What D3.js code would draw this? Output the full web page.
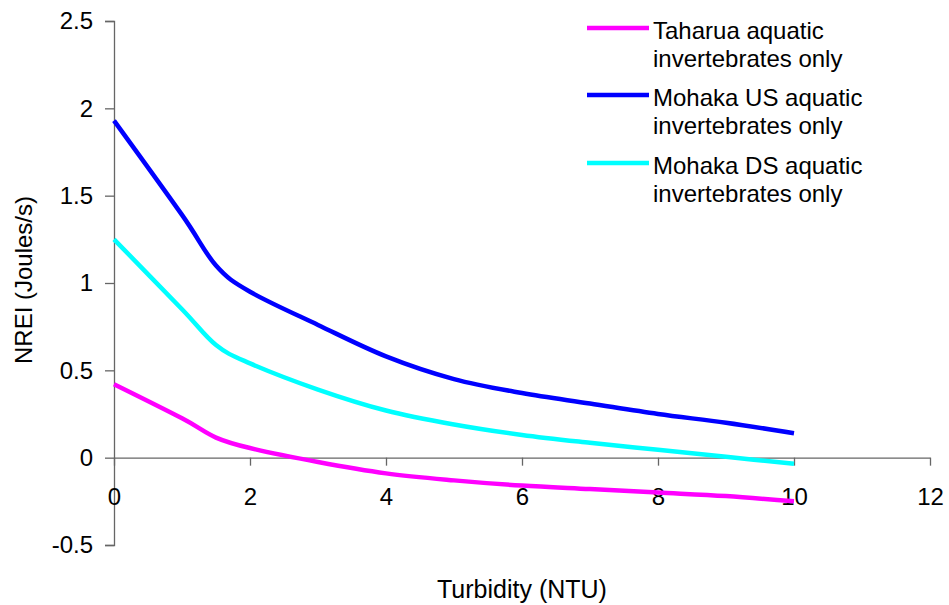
<!DOCTYPE html>
<html><head><meta charset="utf-8">
<script src="https://cdn.jsdelivr.net/npm/d3@7/dist/d3.min.js"></script>
<style>body{margin:0;background:#fff}svg{display:block}text{font-family:"Liberation Sans",Arial,sans-serif;fill:#000}</style>
</head><body>
<svg id="c" width="949" height="605"></svg>
<script>
const turbidity = [0, 1, 1.5, 2, 3, 4, 5, 6, 7, 8, 9, 10];
const taharua = [0.42, 0.225, 0.115, 0.055, -0.025, -0.09, -0.13, -0.16, -0.18, -0.2, -0.22, -0.25];
const mohakaUS = [1.93, 1.39, 1.1, 0.95, 0.76, 0.58, 0.45, 0.37, 0.31, 0.25, 0.2, 0.14];
const mohakaDS = [1.25, 0.85, 0.645, 0.54, 0.39, 0.27, 0.19, 0.13, 0.085, 0.045, 0.005, -0.035];
const seriesNames = ["Taharua aquatic|invertebrates only", "Mohaka US aquatic|invertebrates only", "Mohaka DS aquatic|invertebrates only"];
const seriesColors = ["#FF00FF", "#0000FF", "#00FFFF"];
const xTicks = [0, 2, 4, 6, 8, 10, 12];
const yTicks = [-0.5, 0, 0.5, 1, 1.5, 2, 2.5];

const svg = d3.select("#c");
const x = d3.scaleLinear().domain([0, 12]).range([114, 930]);
const y = d3.scaleLinear().domain([-0.5, 2.5]).range([545, 21]);
const axisColor = "#666";
const fs = "24px";

// y axis
const ya = svg.append("g").attr("transform", `translate(${x(0)},0)`)
  .call(d3.axisLeft(y).tickValues(yTicks).tickSize(9).tickPadding(12).tickFormat(d3.format("")));
ya.select(".domain").attr("stroke", axisColor).attr("stroke-width", 1.3);
ya.selectAll(".tick line").attr("stroke", axisColor).attr("stroke-width", 1.3);
ya.selectAll("text").style("font-size", fs).attr("fill", "#000").text(d => d < 0 ? "-" + Math.abs(d) : d);

// x axis at y=0
const xa = svg.append("g").attr("transform", `translate(0,${y(0)})`)
  .call(d3.axisBottom(x).tickValues(xTicks).tickSize(8).tickSizeOuter(0).tickPadding(22).tickFormat(d3.format("")));
xa.select(".domain").attr("stroke", axisColor).attr("stroke-width", 1.3);
xa.selectAll(".tick line").attr("stroke", axisColor).attr("stroke-width", 1.3);
xa.selectAll("text").style("font-size", fs).attr("fill", "#000");

// axis titles
svg.append("text").attr("x", 522).attr("y", 598).attr("text-anchor", "middle").style("font-size", "25px").text("Turbidity (NTU)");
svg.append("text").attr("transform", `translate(32,280) rotate(-90)`).attr("text-anchor", "middle").style("font-size", fs).text("NREI (Joules/s)");

const line = d3.line().x((d, i) => x(turbidity[i])).y(d => y(d)).curve(d3.curveCardinal.tension(0));
[taharua, mohakaUS, mohakaDS].forEach((s, k) => {
  svg.append("path").attr("d", line(s)).attr("fill", "none").attr("stroke", seriesColors[k]).attr("stroke-width", 4.5).attr("stroke-linejoin", "round");
});

// legend
const legY = [28, 95, 163];
seriesNames.forEach((n, k) => {
  svg.append("line").attr("x1", 587).attr("x2", 649).attr("y1", legY[k]).attr("y2", legY[k]).attr("stroke", seriesColors[k]).attr("stroke-width", 4.5);
  n.split("|").forEach((p, j) => {
    svg.append("text").attr("x", 653).attr("y", legY[k] + 11 + j * 28).style("font-size", fs).text(p);
  });
});
</script>
</body></html>
